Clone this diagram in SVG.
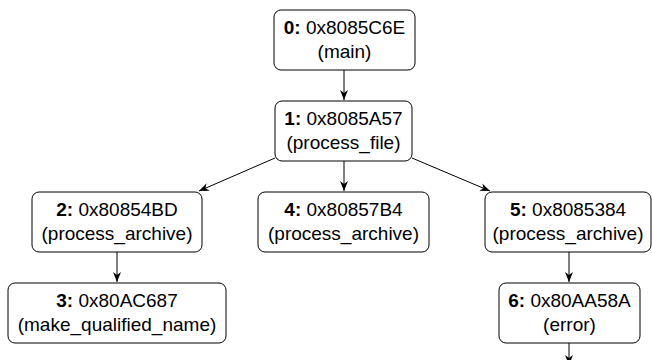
<svg xmlns="http://www.w3.org/2000/svg" width="652" height="360" viewBox="0 0 652 360">
<style>
  .box { fill: #ffffff; stroke: #000000; stroke-width: 1; }
  .lbl { font-family: "Liberation Sans", Arial, Helvetica, sans-serif; font-size: 19px; fill: #000000; text-anchor: middle; }
  .b { font-weight: bold; }
  .edge { stroke: #000000; stroke-width: 1; fill: none; marker-end: url(#arr); }
</style>
<defs>
  <marker id="arr" viewBox="0 0 10 8" refX="10" refY="4" markerWidth="10" markerHeight="8" markerUnits="userSpaceOnUse" orient="auto">
    <path d="M0,0 L10,4 L0,8 L3,4 Z" fill="#000000"/>
  </marker>
</defs>
<rect width="652" height="360" fill="#ffffff"/>
<g id="connectors">
  <line class="edge" x1="344" y1="70" x2="344" y2="100"/>
  <line class="edge" x1="344" y1="161" x2="344" y2="191"/>
  <line class="edge" x1="275" y1="158" x2="199" y2="191"/>
  <line class="edge" x1="412" y1="158" x2="490" y2="191"/>
  <line class="edge" x1="117" y1="252" x2="117" y2="282"/>
  <line class="edge" x1="569" y1="252" x2="569" y2="282"/>
  <line class="edge" x1="569" y1="343" x2="569" y2="365"/>
</g>
<g id="node0">
  <rect class="box" x="274" y="10" width="141" height="60" rx="7"/>
  <text class="lbl" x="344.5" y="34"><tspan class="b">0:</tspan> 0x8085C6E</text>
  <text class="lbl" x="344.5" y="58">(main)</text>
</g>
<g id="node1">
  <rect class="box" x="275" y="101" width="137" height="60" rx="7"/>
  <text class="lbl" x="343.5" y="125"><tspan class="b">1:</tspan> 0x8085A57</text>
  <text class="lbl" x="343.5" y="149">(process_file)</text>
</g>
<g id="node2">
  <rect class="box" x="32" y="192" width="170" height="60" rx="7"/>
  <text class="lbl" x="117" y="216"><tspan class="b">2:</tspan> 0x80854BD</text>
  <text class="lbl" x="117" y="240">(process_archive)</text>
</g>
<g id="node3">
  <rect class="box" x="8" y="283" width="218" height="60" rx="7"/>
  <text class="lbl" x="117" y="307"><tspan class="b">3:</tspan> 0x80AC687</text>
  <text class="lbl" x="117" y="331">(make_qualified_name)</text>
</g>
<g id="node4">
  <rect class="box" x="258" y="192" width="171" height="60" rx="7"/>
  <text class="lbl" x="343.5" y="216"><tspan class="b">4:</tspan> 0x80857B4</text>
  <text class="lbl" x="343.5" y="240">(process_archive)</text>
</g>
<g id="node5">
  <rect class="box" x="485" y="192" width="166" height="60" rx="7"/>
  <text class="lbl" x="568" y="216"><tspan class="b">5:</tspan> 0x8085384</text>
  <text class="lbl" x="568" y="240">(process_archive)</text>
</g>
<g id="node6">
  <rect class="box" x="499" y="283" width="141" height="60" rx="7"/>
  <text class="lbl" x="569.5" y="307"><tspan class="b">6:</tspan> 0x80AA58A</text>
  <text class="lbl" x="569.5" y="331">(error)</text>
</g>
</svg>
